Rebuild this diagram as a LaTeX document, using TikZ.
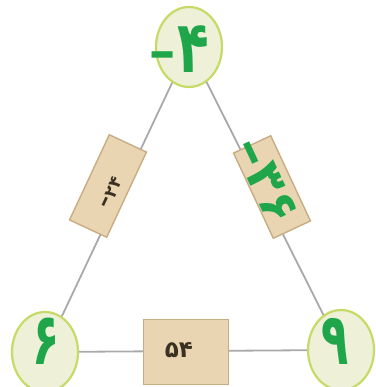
\documentclass[tikz,border=0pt]{standalone}
\usepackage{fontspec}
\usepackage{graphicx}
\usetikzlibrary{shapes.geometric}
\newfontfamily\arabicfont[Script=Arabic]{DejaVu Sans}
\newfontfamily\latinfont{DejaVu Sans}
\definecolor{circfill}{HTML}{EEF0D8}
\definecolor{circedge}{HTML}{C6DA66}
\definecolor{boxfill}{HTML}{E9D5B2}
\definecolor{boxedge}{HTML}{C8AD84}
\definecolor{numgreen}{HTML}{1FA64B}
\definecolor{numdark}{HTML}{3A3122}
\definecolor{edgegray}{HTML}{A9A9AD}
% a tall, narrow Persian numeral and a separate minus sign
\newcommand\tallnum[3][0.62]{\scalebox{#1}[1]{\fontsize{#2}{#2}\selectfont\arabicfont\bfseries #3}}
\newcommand\fignum[2]{{\fontsize{#1}{#1}\selectfont\arabicfont\bfseries #2}}
\newcommand\negsign[2]{\raisebox{#2}{\scalebox{0.6}[1]{\fontsize{#1}{#1}\selectfont\latinfont\bfseries −}}}
\tikzset{
  numcirc/.style={ellipse,draw=circedge,fill=circfill,line width=2.2pt,
    minimum width=66pt,minimum height=80pt,inner sep=0pt},
  prodbox/.style={rectangle,draw=boxedge,fill=boxfill,line width=1.4pt,inner sep=0pt},
  greennum/.style={text=numgreen,inner sep=0pt},
  darknum/.style={text=numdark,inner sep=0pt},
  edgeline/.style={draw=edgegray,line width=1.8pt}
}
\begin{document}
\begin{tikzpicture}[x=1pt,y=-1pt]
  \useasboundingbox (0,0) rectangle (375,387);
  % the three vertex circles
  \node[numcirc] (top) at (189,47) {};
  \node[numcirc] (left) at (45,352) {};
  \node[numcirc] (right) at (341,350) {};
  % sides of the triangle
  \draw[edgeline] (top) -- (left);
  \draw[edgeline] (top) -- (right);
  \draw[edgeline] (left) -- (right);
  % product boxes on the sides
  \node[prodbox,minimum width=94pt,minimum height=41pt,rotate=65] (lbox) at (108,186) {};
  \node[prodbox,minimum width=94pt,minimum height=41pt,rotate=-65] (rbox) at (272,187) {};
  \node[prodbox,minimum width=85pt,minimum height=65pt] (bbox) at (186,352) {};
  % numbers
  \node[greennum] (toptxt) at (179,49) {\negsign{56}{0pt}\kern1pt\tallnum[0.72]{72}{۴}};
  \node[greennum] (lefttxt) at (46,341) {\tallnum{72}{۶}};
  \node[greennum] (righttxt) at (335,341) {\tallnum{72}{۹}};
  \node[darknum,rotate=65] (ltxt) at (111,193) {\negsign{24}{0pt}\fignum{17}{۲۴}};
  \node[greennum,rotate=-65] (rtxt) at (264,181) {\negsign{58}{-4pt}\kern1pt\fignum{50}{۳۶}};
  \node[darknum] (btxt) at (179,350) {\fignum{23}{۵۴}};
\end{tikzpicture}
\end{document}
